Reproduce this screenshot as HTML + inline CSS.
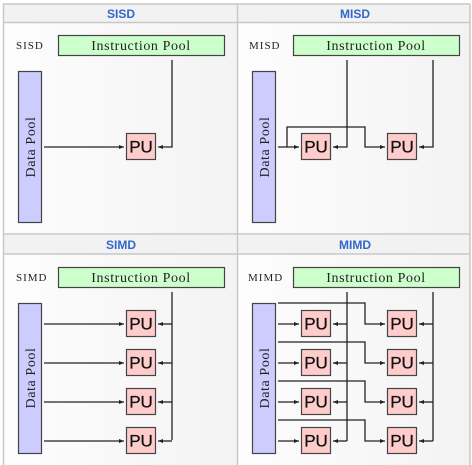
<!DOCTYPE html>
<html><head><meta charset="utf-8"><style>
html,body{margin:0;padding:0;background:#fff;width:472px;height:465px;overflow:hidden}
svg{display:block}
.h{font-family:"Liberation Sans",sans-serif;font-weight:bold;font-size:12px;fill:#3366cc}
.s{font-family:"Liberation Serif",serif;font-size:14px;fill:#222;letter-spacing:0.6px}
.d{font-family:"Liberation Serif",serif;font-size:14px;fill:#222;letter-spacing:0.6px}
.l{font-family:"Liberation Serif",serif;font-size:11px;fill:#222;letter-spacing:1px}
.pu{font-family:"Liberation Sans",sans-serif;font-size:17px;fill:#111;stroke:#111;stroke-width:0.3}
.ln{stroke:#222;stroke-width:1.3;fill:none}
</style></head><body>
<svg width="472" height="465" viewBox="0 0 472 465" xmlns="http://www.w3.org/2000/svg">
<defs>
<marker id="a" markerWidth="6" markerHeight="6" refX="5" refY="3" orient="auto" markerUnits="userSpaceOnUse"><path d="M0,1 L5,3 L0,5z" fill="#222"/></marker>
<linearGradient id="bg" x1="0" x2="1"><stop offset="0" stop-color="#fdfdfd"/><stop offset="1" stop-color="#f3f3f3"/></linearGradient>
</defs>
<rect x="0" y="0" width="472" height="465" fill="#fff"/>
<rect x="3" y="4" width="234" height="230" fill="url(#bg)"/>
<rect x="238" y="4" width="232" height="230" fill="url(#bg)"/>
<rect x="3" y="235" width="234" height="230" fill="url(#bg)"/>
<rect x="238" y="235" width="232" height="230" fill="url(#bg)"/>
<rect x="3" y="4" width="467" height="18" fill="#f2f2f2"/>
<rect x="3" y="235" width="467" height="19" fill="#f2f2f2"/>
<g stroke="#c8c8c8" stroke-width="1.5" fill="none">
<line x1="3" y1="4" x2="470" y2="4"/><line x1="3" y1="22.5" x2="470" y2="22.5"/>
<line x1="3" y1="234" x2="470" y2="234"/><line x1="3" y1="254" x2="470" y2="254"/>
<line x1="3.5" y1="4" x2="3.5" y2="465"/><line x1="237.5" y1="4" x2="237.5" y2="465"/><line x1="470" y1="4" x2="470" y2="465"/>
</g>
<text class="h" x="121" y="18" text-anchor="middle">SISD</text>
<text class="h" x="355" y="18" text-anchor="middle">MISD</text>
<text class="h" x="121" y="249" text-anchor="middle">SIMD</text>
<text class="h" x="355" y="249" text-anchor="middle">MIMD</text>

<!-- SISD -->
<text class="l" x="16" y="49">SISD</text>
<rect x="58.5" y="35.5" width="166" height="20" fill="#ccffcc" stroke="#444" stroke-width="1.2"/>
<text class="s" x="141" y="50" text-anchor="middle">Instruction Pool</text>
<rect x="18.5" y="71.5" width="23" height="151" fill="#ccccff" stroke="#444" stroke-width="1.2"/>
<text class="d" transform="translate(35,147) rotate(-90)" text-anchor="middle">Data Pool</text>
<rect x="126.5" y="133.5" width="29" height="26" fill="#ffcccc" stroke="#444" stroke-width="1.2"/>
<text class="pu" x="141" y="152.5" text-anchor="middle">PU</text>
<path class="ln" d="M44,147 H124" marker-end="url(#a)"/>
<path class="ln" d="M172,60 V147 H158" marker-end="url(#a)"/>

<!-- MISD -->
<text class="l" x="249" y="49">MISD</text>
<rect x="293.5" y="35.5" width="166" height="20" fill="#ccffcc" stroke="#444" stroke-width="1.2"/>
<text class="s" x="376" y="50" text-anchor="middle">Instruction Pool</text>
<rect x="252.5" y="71.5" width="23" height="151" fill="#ccccff" stroke="#444" stroke-width="1.2"/>
<text class="d" transform="translate(269,147) rotate(-90)" text-anchor="middle">Data Pool</text>
<rect x="301.5" y="133.5" width="29" height="26" fill="#ffcccc" stroke="#444" stroke-width="1.2"/>
<text class="pu" x="316" y="152.5" text-anchor="middle">PU</text>
<rect x="387.5" y="133.5" width="29" height="26" fill="#ffcccc" stroke="#444" stroke-width="1.2"/>
<text class="pu" x="402" y="152.5" text-anchor="middle">PU</text>
<path class="ln" d="M278,147 H299" marker-end="url(#a)"/>
<path class="ln" d="M287,147 V127 H365 V147 H385" marker-end="url(#a)"/>
<path class="ln" d="M347,60 V147 H333" marker-end="url(#a)"/>
<path class="ln" d="M433,60 V147 H419" marker-end="url(#a)"/>

<!-- SIMD -->
<text class="l" x="16" y="281">SIMD</text>
<rect x="58.5" y="267.5" width="166" height="20" fill="#ccffcc" stroke="#444" stroke-width="1.2"/>
<text class="s" x="141" y="282" text-anchor="middle">Instruction Pool</text>
<rect x="18.5" y="303.5" width="23" height="150" fill="#ccccff" stroke="#444" stroke-width="1.2"/>
<text class="d" transform="translate(35,378) rotate(-90)" text-anchor="middle">Data Pool</text>
<path class="ln" d="M172,292 V440"/>
<g>
<rect x="126.5" y="310.5" width="29" height="26" fill="#ffcccc" stroke="#444" stroke-width="1.2"/><text class="pu" x="141" y="329.5" text-anchor="middle">PU</text>
<rect x="126.5" y="349.5" width="29" height="26" fill="#ffcccc" stroke="#444" stroke-width="1.2"/><text class="pu" x="141" y="368.5" text-anchor="middle">PU</text>
<rect x="126.5" y="388.5" width="29" height="26" fill="#ffcccc" stroke="#444" stroke-width="1.2"/><text class="pu" x="141" y="407.5" text-anchor="middle">PU</text>
<rect x="126.5" y="427.5" width="29" height="26" fill="#ffcccc" stroke="#444" stroke-width="1.2"/><text class="pu" x="141" y="446.5" text-anchor="middle">PU</text>
</g>
<path class="ln" d="M44,324 H124" marker-end="url(#a)"/><path class="ln" d="M172,324 H158" marker-end="url(#a)"/>
<path class="ln" d="M44,363 H124" marker-end="url(#a)"/><path class="ln" d="M172,363 H158" marker-end="url(#a)"/>
<path class="ln" d="M44,402 H124" marker-end="url(#a)"/><path class="ln" d="M172,402 H158" marker-end="url(#a)"/>
<path class="ln" d="M44,441 H124" marker-end="url(#a)"/><path class="ln" d="M172,441 H158" marker-end="url(#a)"/>

<!-- MIMD -->
<text class="l" x="248" y="281">MIMD</text>
<rect x="293.5" y="267.5" width="166" height="20" fill="#ccffcc" stroke="#444" stroke-width="1.2"/>
<text class="s" x="376" y="282" text-anchor="middle">Instruction Pool</text>
<rect x="252.5" y="303.5" width="23" height="150" fill="#ccccff" stroke="#444" stroke-width="1.2"/>
<text class="d" transform="translate(269,378) rotate(-90)" text-anchor="middle">Data Pool</text>
<path class="ln" d="M347,292 V441"/>
<path class="ln" d="M433,292 V441"/>
<g>
<rect x="301.5" y="310.5" width="29" height="26" fill="#ffcccc" stroke="#444" stroke-width="1.2"/><text class="pu" x="316" y="329.5" text-anchor="middle">PU</text>
<rect x="301.5" y="349.5" width="29" height="26" fill="#ffcccc" stroke="#444" stroke-width="1.2"/><text class="pu" x="316" y="368.5" text-anchor="middle">PU</text>
<rect x="301.5" y="388.5" width="29" height="26" fill="#ffcccc" stroke="#444" stroke-width="1.2"/><text class="pu" x="316" y="407.5" text-anchor="middle">PU</text>
<rect x="301.5" y="427.5" width="29" height="26" fill="#ffcccc" stroke="#444" stroke-width="1.2"/><text class="pu" x="316" y="446.5" text-anchor="middle">PU</text>
<rect x="387.5" y="310.5" width="29" height="26" fill="#ffcccc" stroke="#444" stroke-width="1.2"/><text class="pu" x="402" y="329.5" text-anchor="middle">PU</text>
<rect x="387.5" y="349.5" width="29" height="26" fill="#ffcccc" stroke="#444" stroke-width="1.2"/><text class="pu" x="402" y="368.5" text-anchor="middle">PU</text>
<rect x="387.5" y="388.5" width="29" height="26" fill="#ffcccc" stroke="#444" stroke-width="1.2"/><text class="pu" x="402" y="407.5" text-anchor="middle">PU</text>
<rect x="387.5" y="427.5" width="29" height="26" fill="#ffcccc" stroke="#444" stroke-width="1.2"/><text class="pu" x="402" y="446.5" text-anchor="middle">PU</text>
</g>
<g>
<path class="ln" d="M278,324 H299" marker-end="url(#a)"/><path class="ln" d="M347,324 H333" marker-end="url(#a)"/>
<path class="ln" d="M278,303 H365 V324 H385" marker-end="url(#a)"/><path class="ln" d="M433,324 H419" marker-end="url(#a)"/>
<path class="ln" d="M278,363 H299" marker-end="url(#a)"/><path class="ln" d="M347,363 H333" marker-end="url(#a)"/>
<path class="ln" d="M278,342 H365 V363 H385" marker-end="url(#a)"/><path class="ln" d="M433,363 H419" marker-end="url(#a)"/>
<path class="ln" d="M278,402 H299" marker-end="url(#a)"/><path class="ln" d="M347,402 H333" marker-end="url(#a)"/>
<path class="ln" d="M278,381 H365 V402 H385" marker-end="url(#a)"/><path class="ln" d="M433,402 H419" marker-end="url(#a)"/>
<path class="ln" d="M278,441 H299" marker-end="url(#a)"/><path class="ln" d="M347,441 H333" marker-end="url(#a)"/>
<path class="ln" d="M278,420 H365 V441 H385" marker-end="url(#a)"/><path class="ln" d="M433,441 H419" marker-end="url(#a)"/>
</g>
</svg>
</body></html>
